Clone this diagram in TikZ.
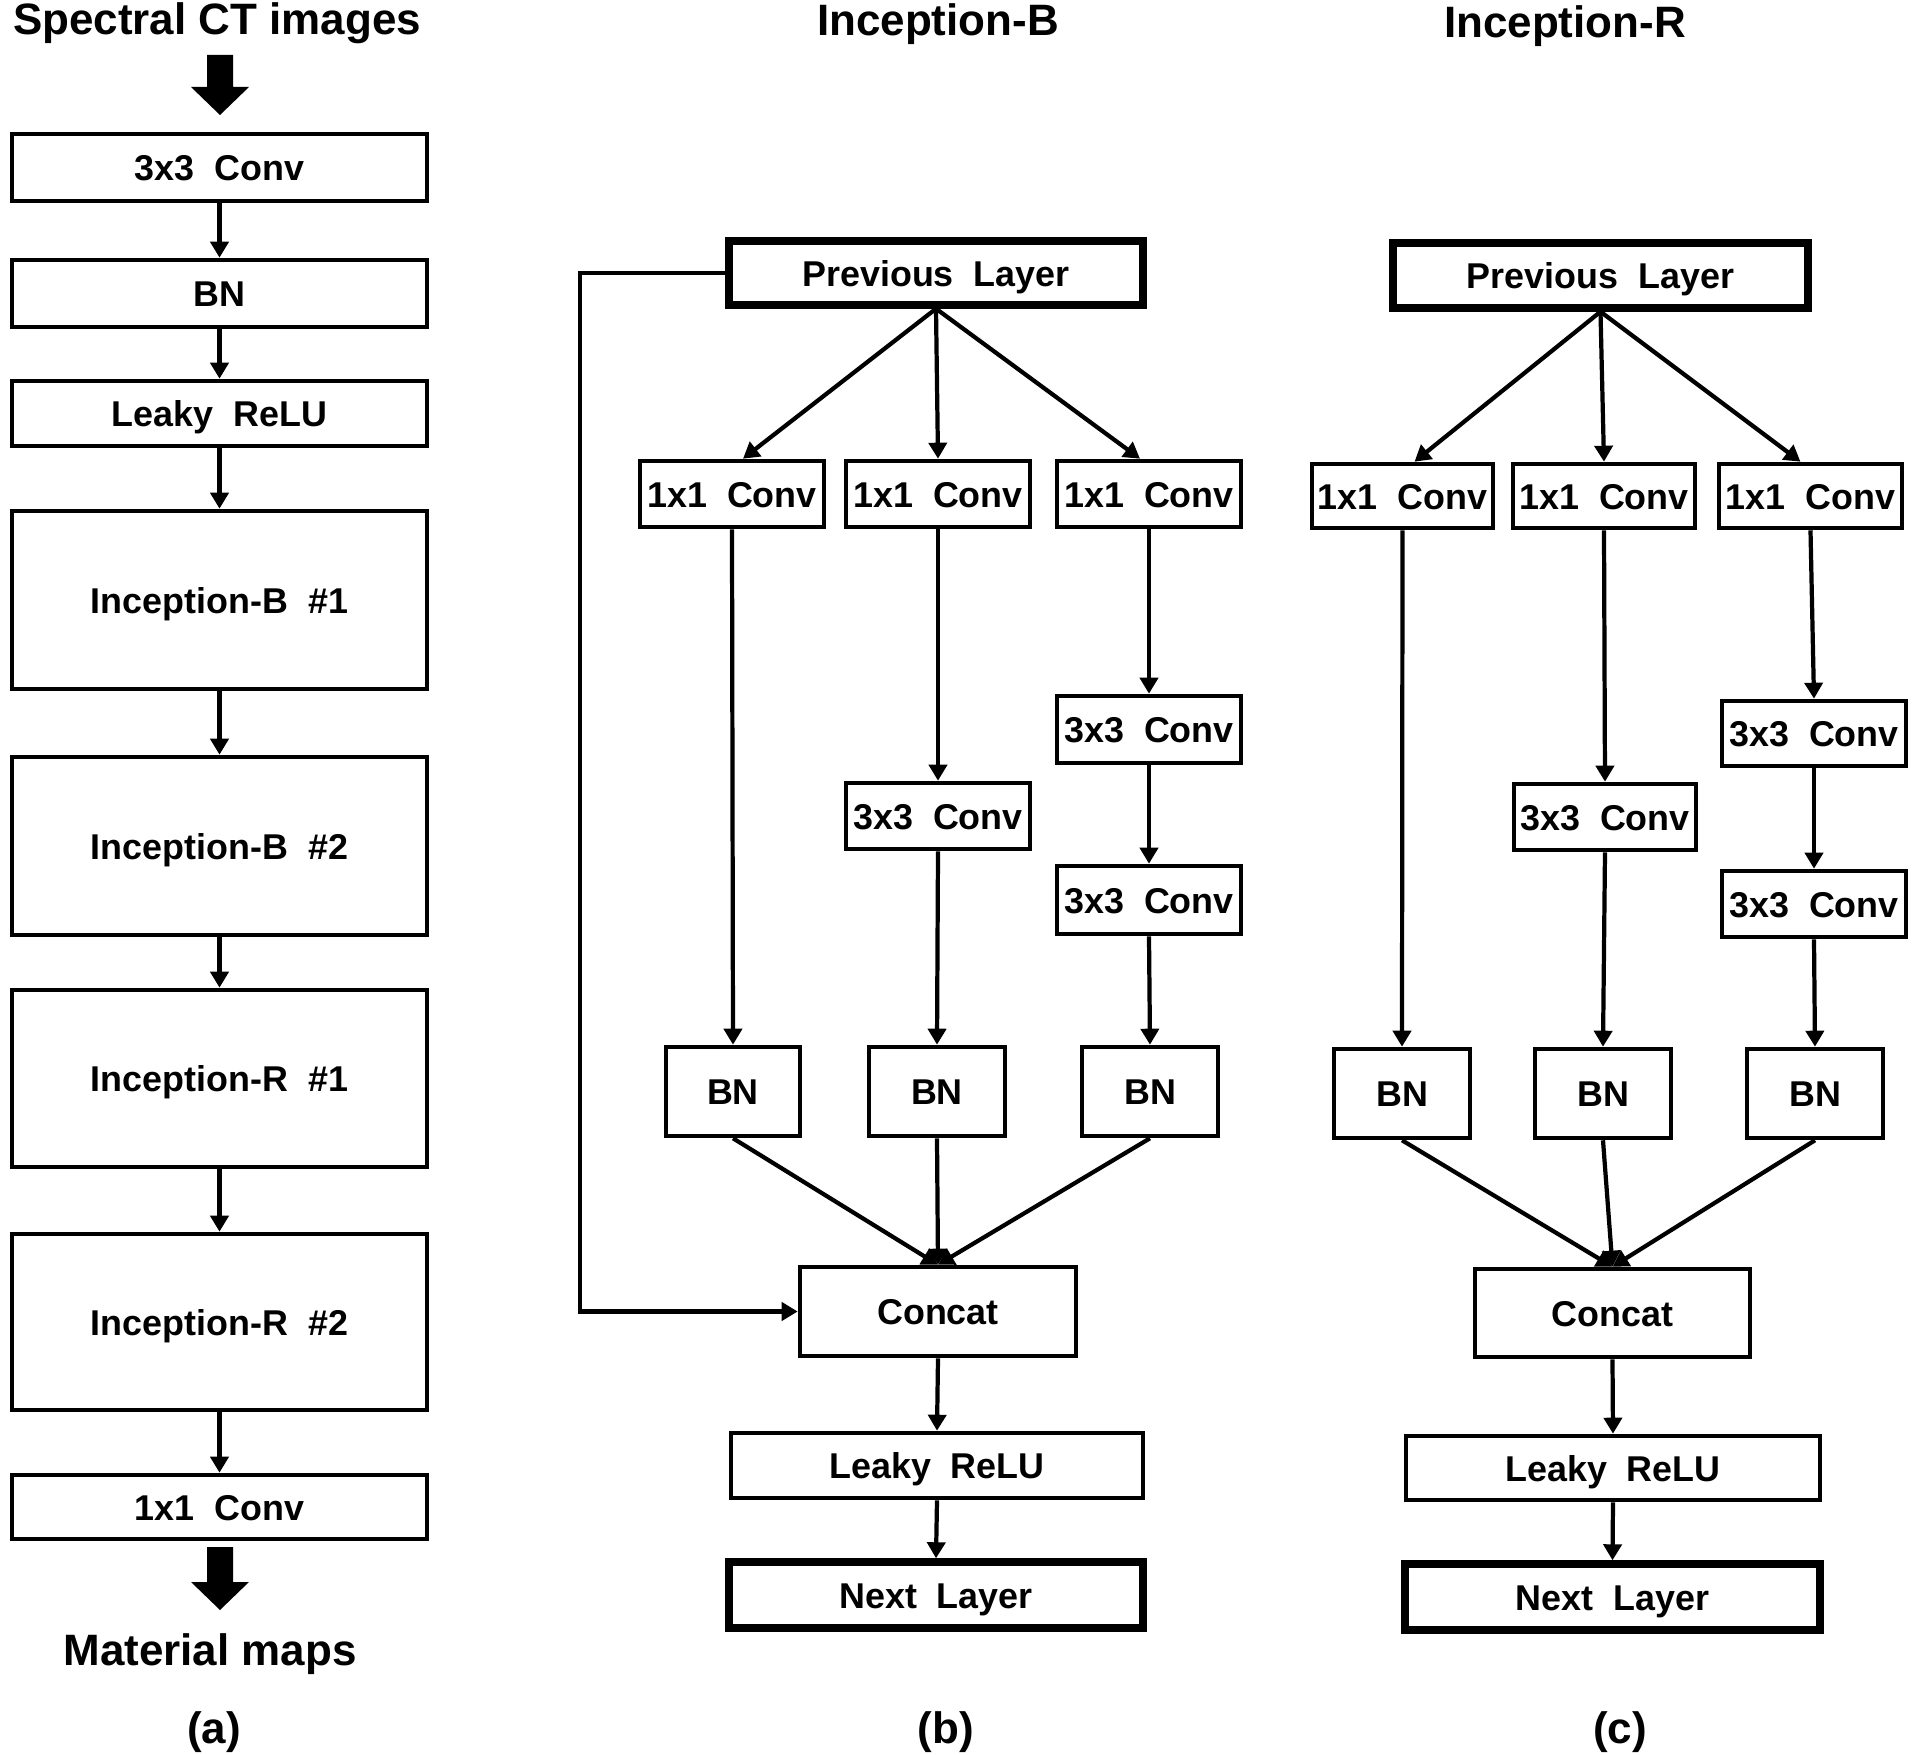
\documentclass[tikz,border=0pt]{standalone}
\usepackage{fontspec}
\setmainfont{Liberation Sans}
\usetikzlibrary{arrows.meta,calc}
\newcommand\mybox[7][]{%
  \node[box,#1,minimum width={(#5-#3-4)*0.01cm},minimum height={(#6-#4-4)*0.01cm}] (#2) at ({(#3+#5)/2},{(#4+#6)/2}) {#7};}
\tikzset{
  box/.style={draw, line width=1.3pt, inner sep=0pt, fill=white,
    font=\fontsize{10.2}{12}\selectfont\bfseries, text height=0.26cm, text depth=0pt},
  thickbox/.style={line width=2.1pt},
  arr/.style={line width=1.2pt, -{Triangle[length=0.16cm,width=0.18cm]}},
  ttl/.style={font=\fontsize{12.5}{15}\selectfont\bfseries, inner sep=0pt, anchor=base},
  lbl/.style={font=\fontsize{12.5}{15}\selectfont\bfseries, inner sep=0pt}
}
\begin{document}
\begin{tikzpicture}[x=0.01cm,y=-0.01cm]
\useasboundingbox[fill=white] (0,0) rectangle (1920,1755);
% ---------- titles ----------
\node[ttl] (tA) at (217,35) {Spectral CT images};
\node[ttl] (tB) at (938,36) {Inception-B};
\node[ttl] (tC) at (1565,38) {Inception-R};
\node[ttl] (tM) at (210,1665) {Material maps};
\node[lbl] (la) at (214,1732) {(a)};
\node[lbl] (lb) at (946,1732) {(b)};
\node[lbl] (lc) at (1620,1732) {(c)};
% ---------- block arrows ----------
\fill (207,55) -- (233,55) -- (233,87) -- (249,87) -- (220,115) -- (191,87) -- (207,87) -- cycle;
\fill (207,1547) -- (233,1547) -- (233,1582) -- (249,1582) -- (220,1610) -- (191,1582) -- (207,1582) -- cycle;
% ---------- panel (a) ----------
\mybox{a1}{10}{132}{429}{203}{3x3\ \ Conv}
\mybox{a2}{10}{258}{429}{329}{BN}
\mybox{a3}{10}{379}{429}{448}{Leaky\ \ ReLU}
\mybox{a4}{10}{509}{429}{691}{Inception-B\ \ \#1}
\mybox{a5}{10}{755}{429}{937}{Inception-B\ \ \#2}
\mybox{a6}{10}{988}{429}{1169}{Inception-R\ \ \#1}
\mybox{a7}{10}{1232}{429}{1412}{Inception-R\ \ \#2}
\mybox{a8}{10}{1473}{429}{1541}{1x1\ \ Conv}
\foreach \p/\q in {a1/a2,a2/a3,a3/a4,a4/a5,a5/a6,a6/a7,a7/a8}
  \draw[arr] (\p.south) -- (\q.north);
% ---------- panel (b) ----------
\mybox[thickbox]{bp}{727}{239}{1145}{307}{Previous\ \ Layer}
\mybox{b1}{638}{459}{826}{529}{1x1\ \ Conv}
\mybox{b2}{844}{459}{1032}{529}{1x1\ \ Conv}
\mybox{b3}{1055}{459}{1243}{529}{1x1\ \ Conv}
\mybox{b5}{844}{781}{1032}{851}{3x3\ \ Conv}
\mybox{b6}{1055}{694}{1243}{765}{3x3\ \ Conv}
\mybox{b7}{1055}{864}{1243}{936}{3x3\ \ Conv}
\mybox{bn1}{664}{1045}{802}{1138}{BN}
\mybox{bn2}{867}{1045}{1007}{1138}{BN}
\mybox{bn3}{1080}{1045}{1220}{1138}{BN}
\mybox{bc}{798}{1265}{1078}{1358}{Concat}
\mybox{bl}{729}{1431}{1145}{1500}{Leaky\ \ ReLU}
\mybox[thickbox]{bx}{727}{1560}{1145}{1630}{Next\ \ Layer}
\draw[arr] (bp.south) -- ($(b1.north)+(11,0)$);
\draw[arr] (bp.south) -- (b2.north);
\draw[arr] (bp.south) -- ($(b3.north)+(-9,0)$);
\draw[arr] (b1.south) -- (bn1.north);
\draw[arr] (b2.south) -- (b5.north);
\draw[arr] (b5.south) -- (bn2.north);
\draw[arr] (b3.south) -- (b6.north);
\draw[arr] (b6.south) -- (b7.north);
\draw[arr] (b7.south) -- (bn3.north);
\draw[arr] (bn1.south) -- (bc.north);
\draw[arr] (bn2.south) -- (bc.north);
\draw[arr] (bn3.south) -- (bc.north);
\draw[arr] (bc.south) -- (bl.north);
\draw[arr] (bl.south) -- (bx.north);
\draw[arr] (bp.west) -| ($(bc.west)+(-218,0)$) -- (bc.west);
% ---------- panel (c) ----------
\mybox[thickbox]{cp}{1391}{241}{1810}{310}{Previous\ \ Layer}
\mybox{c1}{1310}{462}{1495}{530}{1x1\ \ Conv}
\mybox{c2}{1511}{462}{1697}{530}{1x1\ \ Conv}
\mybox{c3}{1717}{462}{1904}{530}{1x1\ \ Conv}
\mybox{c5}{1512}{782}{1698}{852}{3x3\ \ Conv}
\mybox{c6}{1720}{699}{1908}{768}{3x3\ \ Conv}
\mybox{c7}{1720}{869}{1908}{939}{3x3\ \ Conv}
\mybox{cn1}{1332}{1047}{1472}{1140}{BN}
\mybox{cn2}{1533}{1047}{1673}{1140}{BN}
\mybox{cn3}{1745}{1047}{1885}{1140}{BN}
\mybox{cc}{1473}{1267}{1752}{1359}{Concat}
\mybox{cl}{1404}{1434}{1822}{1502}{Leaky\ \ ReLU}
\mybox[thickbox]{cx}{1403}{1562}{1822}{1632}{Next\ \ Layer}
\draw[arr] (cp.south) -- ($(c1.north)+(12,0)$);
\draw[arr] (cp.south) -- (c2.north);
\draw[arr] (cp.south) -- ($(c3.north)+(-10,0)$);
\draw[arr] (c1.south) -- (cn1.north);
\draw[arr] (c2.south) -- (c5.north);
\draw[arr] (c5.south) -- (cn2.north);
\draw[arr] (c3.south) -- (c6.north);
\draw[arr] (c6.south) -- (c7.north);
\draw[arr] (c7.south) -- (cn3.north);
\draw[arr] (cn1.south) -- (cc.north);
\draw[arr] (cn2.south) -- (cc.north);
\draw[arr] (cn3.south) -- (cc.north);
\draw[arr] (cc.south) -- (cl.north);
\draw[arr] (cl.south) -- (cx.north);
\end{tikzpicture}
\end{document}
